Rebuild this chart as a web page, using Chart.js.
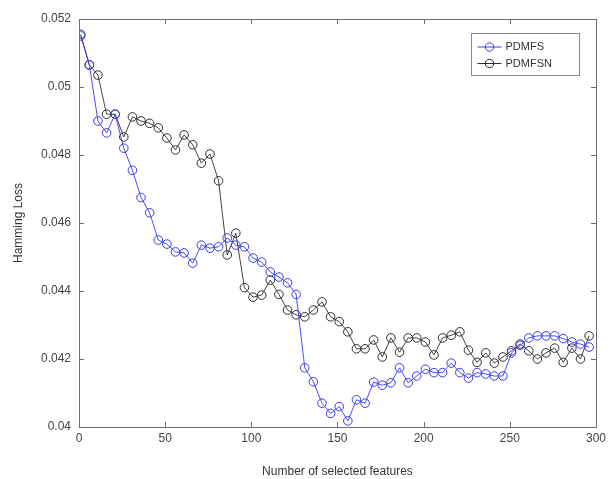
<!DOCTYPE html>
<html><head><meta charset="utf-8">
<script src="https://cdn.jsdelivr.net/npm/chart.js@4.4.0/dist/chart.umd.min.js"></script>
<style>html,body{margin:0;padding:0;background:#fff}#wrap{width:610px;height:479px}</style>
</head><body><div id="wrap"><canvas id="c" width="610" height="479"></canvas></div>
<script>
const featureCounts = [1,6,11,16,21,26,31,36,41,46,51,56,61,66,71,76,81,86,91,96,
  101,106,111,116,121,126,131,136,141,146,151,156,161,166,171,176,181,186,191,196,
  201,206,211,216,221,226,231,236,241,246,251,256,261,266,271,276,281,286,291,296];
const pdmfs = [0.0515,0.05065,0.0490,0.04865,0.0492,0.0482,0.04755,0.04675,0.0463,0.0455,
  0.04538,0.04515,0.04512,0.04482,0.04535,0.04526,0.0453,0.04556,0.04535,0.0453,
  0.04497,0.04485,0.04456,0.04441,0.04424,0.0439,0.04174,0.04133,0.0407,0.0404,
  0.0406,0.04018,0.0408,0.0407,0.04132,0.04123,0.0413,0.04174,0.0413,0.0415,
  0.0417,0.0416,0.0416,0.04188,0.0416,0.04144,0.0416,0.04156,0.0415,0.0415,
  0.04218,0.0424,0.04262,0.04268,0.04268,0.04268,0.0426,0.0425,0.04244,0.04235];
const pdmfsn = [0.05155,0.05065,0.05035,0.0492,0.0492,0.04853,0.04912,0.049,0.04893,0.0488,
  0.0485,0.04815,0.04859,0.0483,0.04776,0.04803,0.04724,0.04506,0.0457,0.0441,
  0.04382,0.04388,0.04432,0.0439,0.04344,0.0433,0.04324,0.04344,0.04368,0.04324,
  0.0431,0.0428,0.0423,0.0423,0.04256,0.04206,0.04262,0.0422,0.04262,0.04262,
  0.0425,0.04212,0.04262,0.0427,0.0428,0.04226,0.0419,0.04218,0.04188,0.04206,
  0.04224,0.04244,0.04224,0.042,0.04218,0.04232,0.0419,0.04232,0.042,0.04268];
const seriesNames = ['PDMFS','PDMFSN'];
const xTicks = [0,50,100,150,200,250,300];
const yTicks = [0.04,0.042,0.044,0.046,0.048,0.05,0.052];
const xTitle = 'Number of selected features';
const yTitle = 'Hamming Loss';

const FONT = '"Liberation Sans", Arial, sans-serif';
const AX = '#6e6e6e';

const toPts = vals => featureCounts.map((x,i)=>({x:x,y:vals[i]}));

const framePlugin = {
  id:'frame',
  afterDatasetsDraw(chart){
    const {ctx, chartArea:a, scales:{x,y}} = chart;
    ctx.save();
    ctx.strokeStyle = AX; ctx.lineWidth = 1;
    ctx.strokeRect(Math.round(a.left)+0.5, Math.round(a.top)+0.5, Math.round(a.right-a.left), Math.round(a.bottom-a.top));
    ctx.beginPath();
    const L = 5;
    x.ticks.forEach(t=>{ const p = Math.round(x.getPixelForValue(t.value))+0.5;
      ctx.moveTo(p,a.bottom); ctx.lineTo(p,a.bottom-L); ctx.moveTo(p,a.top); ctx.lineTo(p,a.top+L); });
    y.ticks.forEach(t=>{ const p = Math.round(y.getPixelForValue(t.value))+0.5;
      ctx.moveTo(a.left,p); ctx.lineTo(a.left+L,p); ctx.moveTo(a.right,p); ctx.lineTo(a.right-L,p); });
    ctx.stroke();
    // legend
    const bx = 471.5, by = 33.5, bw = 108, bh = 42;
    ctx.fillStyle = '#fff'; ctx.fillRect(bx,by,bw,bh);
    ctx.strokeStyle = '#8a8a8a'; ctx.strokeRect(bx,by,bw,bh);
    ctx.font = '11px ' + FONT; ctx.textBaseline = 'middle'; ctx.textAlign='left';
    chart.data.datasets.forEach((ds,i)=>{
      const yy = by + 13.5 + i*16.5;
      ctx.strokeStyle = ds.borderColor; ctx.lineWidth = 1;
      ctx.beginPath(); ctx.moveTo(bx+6,yy); ctx.lineTo(bx+30,yy); ctx.stroke();
      ctx.beginPath(); ctx.arc(bx+18,yy,4.2,0,Math.PI*2); ctx.stroke();
      ctx.fillStyle = '#333'; ctx.fillText(ds.label, bx+34, yy);
    });
    ctx.restore();
  }
};

new Chart(document.getElementById('c'), {
  type:'line',
  data:{ datasets:[
    {label:seriesNames[0], data:toPts(pdmfs), borderColor:'#3a3aee', backgroundColor:'rgba(0,0,0,0)',
     borderWidth:0.9, pointRadius:4.3, pointBorderWidth:1, pointBackgroundColor:'rgba(0,0,0,0)', pointBorderColor:'#3a3aee', tension:0},
    {label:seriesNames[1], data:toPts(pdmfsn), borderColor:'#2e2e2e', backgroundColor:'rgba(0,0,0,0)',
     borderWidth:0.9, pointRadius:4.3, pointBorderWidth:1, pointBackgroundColor:'rgba(0,0,0,0)', pointBorderColor:'#2e2e2e', tension:0}
  ]},
  options:{
    responsive:false, animation:false, devicePixelRatio:1,
    layout:{padding:{left:11,right:14,top:19,bottom:0}},
    plugins:{legend:{display:false}, tooltip:{enabled:false}},
    scales:{
      x:{type:'linear', min:0, max:300,
         afterBuildTicks: s => { s.ticks = xTicks.map(v=>({value:v})); },
         afterFit: s => { s.height = 52; },
         grid:{display:false, drawTicks:false}, border:{display:false},
         ticks:{color:'#444', font:{family:FONT,size:12}, padding:4, maxRotation:0},
         title:{display:true, text:xTitle, color:'#333', font:{family:FONT,size:12}, padding:{top:3,bottom:0}}},
      y:{type:'linear', min:0.04, max:0.052,
         afterBuildTicks: s => { s.ticks = yTicks.map(v=>({value:v})); },
         afterFit: s => { s.width = 68; },
         grid:{display:false, drawTicks:false}, border:{display:false},
         ticks:{color:'#444', font:{family:FONT,size:12}, padding:8, callback:v=>String(parseFloat(v.toFixed(3)))},
         title:{display:true, text:yTitle, color:'#333', font:{family:FONT,size:12}, padding:{top:0,bottom:4}}}
    }
  },
  plugins:[framePlugin]
});
</script></body></html>
